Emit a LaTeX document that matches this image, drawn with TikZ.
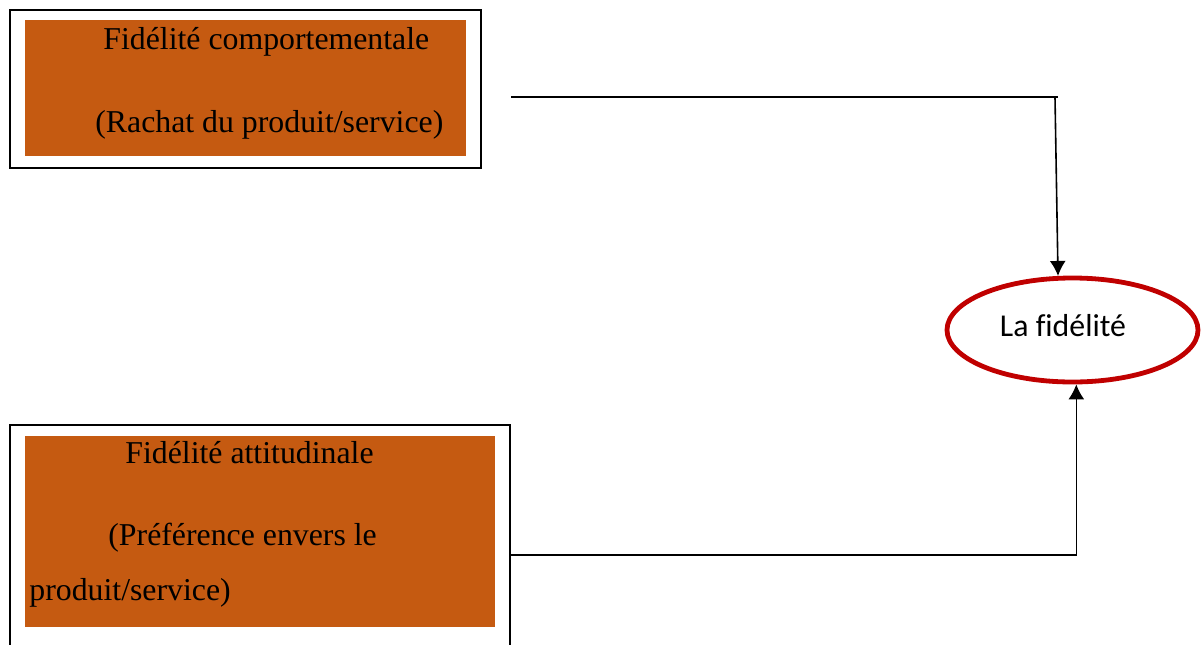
\documentclass[tikz,border=0pt]{standalone}
\usepackage{fontspec}
\setmainfont{Liberation Serif}
\newfontfamily\calibrifont[Ligatures=NoCommon]{Carlito}
\usetikzlibrary{arrows.meta,shapes.geometric}
\definecolor{boxorange}{HTML}{C55A11}
\definecolor{loyalred}{HTML}{C00000}

\begin{document}
\begin{tikzpicture}[x=0.5pt, y=-0.5pt, font=\fontsize{15.9}{19}\selectfont,
        frame/.style = {draw, line width=1pt, inner sep=0pt},
        fillbox/.style = {fill=boxorange, inner sep=0pt},
        txt/.style = {anchor=base west, inner sep=0pt},
        ell/.style = {draw=loyalred, ellipse, line width=2.4pt, inner sep=0pt},
        conn/.style = {line width=0.8pt},
        arr/.style = {line width=0.8pt, -{Latex[length=7.5pt,width=8pt]}}]
            \useasboundingbox (0,0) rectangle (1201,644);

            \node[frame, minimum width=235.5pt, minimum height=79pt] (comportOut) at (245.5,88.5) {};
            \node[fillbox, minimum width=220.5pt, minimum height=68pt] (comport) at (245.5,88) {};
            \node[txt] (comportA) at (103,49) {Fidélité comportementale};
            \node[txt] (comportB) at (95,132) {(Rachat du produit/service)};

            \node[frame, minimum width=250pt, minimum height=112.5pt] (attitOut) at (260,537.5) {};
            \node[fillbox, minimum width=235pt, minimum height=95.5pt] (attit) at (260,531.5) {};
            \node[txt] (attitA) at (125,463) {Fidélité attitudinale};
            \node[txt] (attitB) at (108,545) {(Préférence envers le};
            \node[txt] (attitC) at (29,600) {produit/service)};

            \node[ell, minimum width=125.5pt, minimum height=52pt] (loyal) at (1072.5,330) {};
            \node[inner sep=0pt] (loyaltxt) at (1063,326) {\calibrifont La fidélité};

            \coordinate (topstart) at (511,97);
            \coordinate (topend) at (1058,97);
            \coordinate (topbend) at (1055,97);
            \coordinate (botstart) at (511,555);

            \draw[conn] (topstart) -- (topend);
            \draw[arr] (topbend) -- (loyal.105);
            \draw[arr] (botstart) -| (loyal.-86);
        \end{tikzpicture}
\end{document}
